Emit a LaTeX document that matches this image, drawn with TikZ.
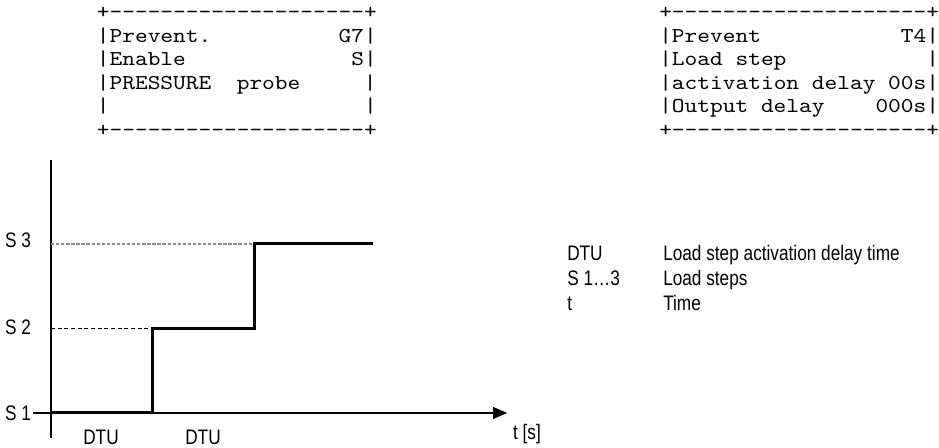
\documentclass[tikz,border=0pt]{standalone}
\usepackage{fontspec}
\setsansfont{Liberation Sans}[FakeStretch=0.82]
\setmonofont{lmmono10-regular.otf}[FakeStretch=1.143]
\usepackage{tikz}
\usetikzlibrary{arrows.meta}

\begin{document}
\begin{tikzpicture}[x=0.75pt, y=-0.75pt,
  lcd/.style={anchor=base west, inner sep=0pt, font=\fontsize{15.9}{17}\ttfamily},
  lbl/.style={anchor=base, inner sep=0pt, font=\fontsize{15.75}{18}\sffamily},
  leg/.style={lbl, anchor=base west},
  axis/.style={black, line width=0.9pt},
  curve/.style={black, line width=2.25pt, line join=miter}]

% Colori
\definecolor{lineGray}{HTML}{8C8C8C}

% Area
\path[use as bounding box] (0,0) rectangle (939,448);

% Display sinistro (G7)
\node[lcd] (g7top) at (96.6,19)    {+--------------------+};
\node[lcd] (g7r1)  at (96.6,42.5)  {|Prevent.~~~~~~~~~~G7|};
\node[lcd] (g7r2)  at (96.6,66)    {|Enable~~~~~~~~~~~~~S|};
\node[lcd] (g7r3)  at (96.6,89.5)  {|PRESSURE~~probe~~~~~|};
\node[lcd] (g7r4)  at (96.6,113)   {|~~~~~~~~~~~~~~~~~~~~|};
\node[lcd] (g7bot) at (96.6,136.5) {+--------------------+};

% Display destro (T4)
\node[lcd] (t4top) at (659,19)    {+--------------------+};
\node[lcd] (t4r1)  at (659,42.5)  {|Prevent~~~~~~~~~~~T4|};
\node[lcd] (t4r2)  at (659,66)    {|Load~step~~~~~~~~~~~|};
\node[lcd] (t4r3)  at (659,89.5)  {|activation~delay~00s|};
\node[lcd] (t4r4)  at (659,113)   {|Output~delay~~~~000s|};
\node[lcd] (t4bot) at (659,136.5) {+--------------------+};

% Assi
\draw[axis] (51,160) -- (51,438);
\draw[axis, -{Triangle[length=10.5pt, width=9pt]}] (33,413) -- (507,413);

% Livelli (tratteggio)
\draw[lineGray, line width=0.9pt, dash pattern=on 2.5pt off 1.3pt] (51,244) -- (254,244);
\draw[black, line width=0.75pt, dash pattern=on 3pt off 2pt] (51,329) -- (152,329);

% Gradini
\draw[curve] (51,413) -- (152,413) -- (152,329) -- (254,329) -- (254,244) -- (373,244);

% Etichette asse y
\node[lbl] (s3) at (18,247.5) {S 3};
\node[lbl] (s2) at (18,334.5) {S 2};
\node[lbl] (s1) at (18,420.5) {S 1};

% Etichette asse x
\node[lbl] (dtu1) at (101,444.5) {DTU};
\node[lbl] (dtu2) at (203,444.5) {DTU};
\node[lbl] (ts)   at (527,440)   {t [s]};

% Legenda
\node[leg] (kDTU) at (567,260.5) {DTU};
\node[leg] (kS)   at (567,285.5) {S 1…3};
\node[leg] (kt)   at (567,310.5) {t};
\node[leg] (vDTU) at (663,260.5) {Load step activation delay time};
\node[leg] (vS)   at (663,285.5) {Load steps};
\node[leg] (vt)   at (663,310.5) {Time};

\end{tikzpicture}
\end{document}
